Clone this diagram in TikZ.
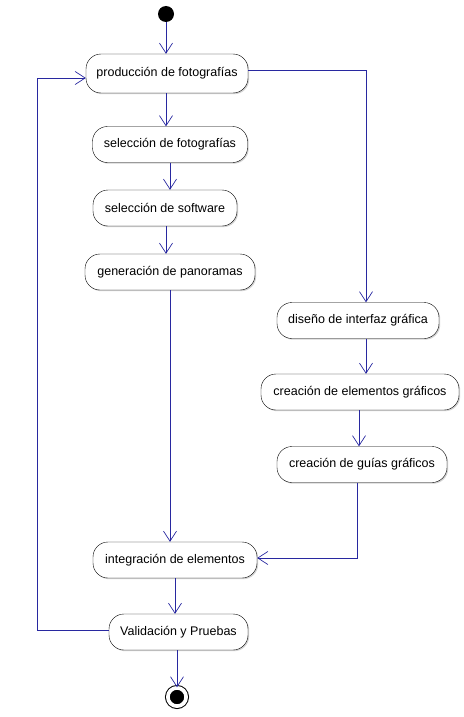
\documentclass[tikz,border=0pt]{standalone}
\usepackage{fontspec}
\setmainfont{Liberation Sans}
\usetikzlibrary{arrows.meta}
\usetikzlibrary{shadows}
\definecolor{flowblue}{RGB}{40,40,160}

\begin{document}
\begin{tikzpicture}[x=1pt,y=-1pt,
        activity/.style={draw,fill=white,rounded corners=15pt,minimum height=36pt,inner sep=0pt,
            font=\fontsize{12.5}{14}\selectfont,
            drop shadow={shadow xshift=1.2pt,shadow yshift=-1.2pt,fill=black!35}},
        flow/.style={draw=flowblue,line width=0.7pt,-{Straight Barb[length=10pt,width=13pt]}},
        initial/.style={circle,fill=black,minimum size=16pt,inner sep=0pt},
        final/.style={circle,draw,fill=black,line width=1pt,double=white,double distance=3.7pt,
            minimum size=18.3pt,inner sep=0pt}]
                \useasboundingbox (0,0) rectangle (463,717);

                \node[initial] (start) at (166,14) {};
                \node[activity,minimum width=162pt,minimum height=39pt] (prod) at (167,73.5) {producción de fotografías};
                \node[activity,minimum width=155pt] (selfoto) at (170,144.5) {selección de fotografías};
                \node[activity,minimum width=144pt] (selsoft) at (165,208) {selección de software};
                \node[activity,minimum width=170pt] (genpan) at (170,272) {generación de panoramas};
                \node[activity,minimum width=162pt] (diseno) at (358,320.5) {diseño de interfaz gráfica};
                \node[activity,minimum width=198pt] (creelem) at (360,392) {creación de elementos gráficos};
                \node[activity,minimum width=170pt] (creguia) at (362,464.5) {creación de guías gráficos};
                \node[activity,minimum width=164pt] (integ) at (175,560) {integración de elementos};
                \node[activity,minimum width=139pt] (valid) at (178.5,632) {Validación y Pruebas};
                \node[final] (end) at (177,697) {};
                \coordinate (loop) at (37,632);

                \draw[flow] (start.south) -- (start.south |- prod.north);
                \draw[flow] ([xshift=-1pt]prod.south) -- ([xshift=-1pt]prod.south |- selfoto.north);
                \draw[flow] (selfoto.south) -- (selfoto.south |- selsoft.north);
                \draw[flow] ([xshift=1pt]selsoft.south) -- ([xshift=1pt]selsoft.south |- genpan.north);
                \draw[flow] (genpan.south) -- (genpan.south |- integ.north);
                \draw[flow] ([yshift=3.5pt]prod.east) -| ([xshift=8pt]diseno.north);
                \draw[flow] ([xshift=8pt]diseno.south) -- ([xshift=8pt]diseno.south |- creelem.north);
                \draw[flow] ([xshift=-1pt]creelem.south) -- ([xshift=-1pt]creelem.south |- creguia.north);
                \draw[flow] ([xshift=-5pt]creguia.south) |- ([yshift=2pt]integ.east);
                \draw[flow] (integ.south) -- (integ.south |- valid.north);
                \draw[flow] ([yshift=2pt]valid.west) -- ([yshift=2pt]valid.west -| loop) |- ([yshift=-4.5pt]prod.west);
                \draw[flow] ([xshift=-1.5pt]valid.south) -- ([xshift=-1.5pt]valid.south |- end.north);
            \end{tikzpicture}
\end{document}
